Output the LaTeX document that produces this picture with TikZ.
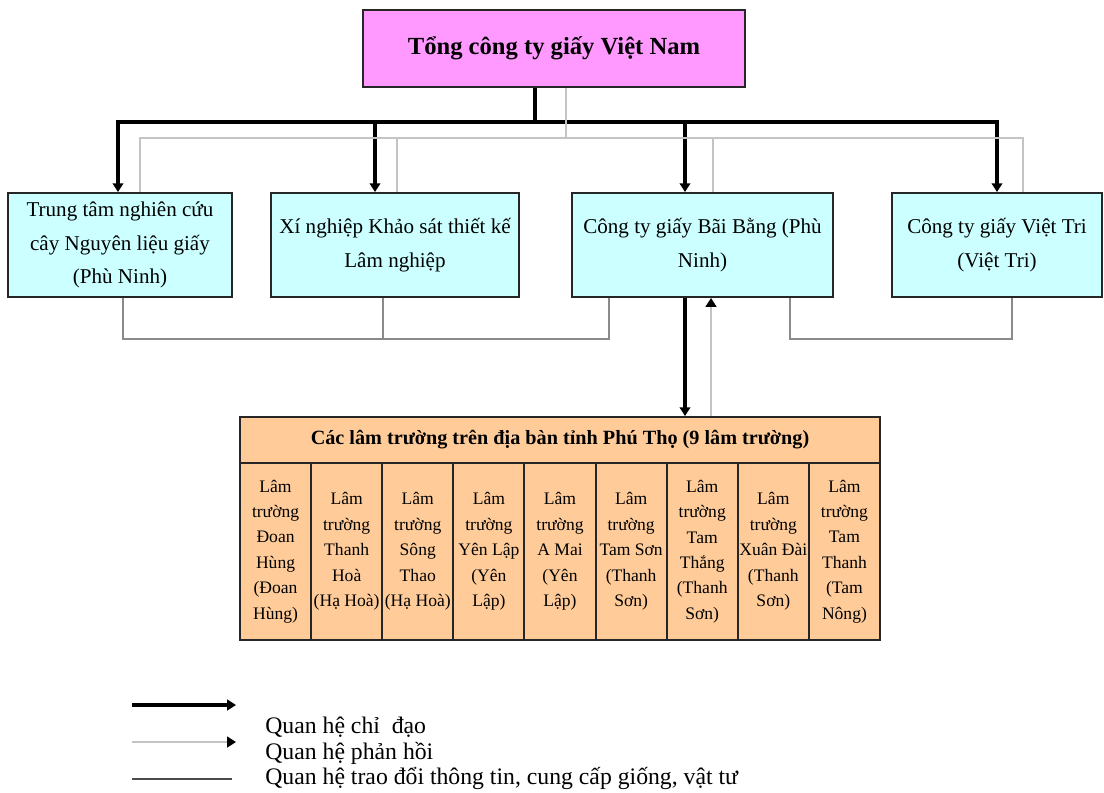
\documentclass[tikz,border=0pt]{standalone}
\usepackage{fontspec}
\setmainfont{Liberation Serif}
\usepackage{tikz}
\usetikzlibrary{arrows.meta}

\definecolor{hong}{HTML}{FF99FF}
\definecolor{xanh}{HTML}{CCFFFF}
\definecolor{cam}{HTML}{FFCC99}
\definecolor{xamnhat}{HTML}{C4C4C4}
\definecolor{xamdam}{HTML}{8A8A8A}

\tikzset{
  hop/.style={draw=black!85, line width=1.1pt, align=center, inner sep=2pt,
    font=\fontsize{12}{19}\selectfont},
  o/.style={draw=black!85, line width=1.1pt, fill=cam, align=center, inner xsep=0pt,
    minimum width=1.4222cm, minimum height=3.54cm, font=\fontsize{10}{14.5}\selectfont},
  chidao/.style={line width=2.2pt, black},
  phanhoi/.style={line width=1.3pt, xamnhat},
  traodoi/.style={line width=1.3pt, xamdam},
  tip/.style={-{Triangle[length=5pt,width=6pt,color=black]}},
  chu/.style={anchor=west, inner sep=0pt, font=\fontsize{13.5}{16}\selectfont}
}

\begin{document}
\begin{tikzpicture}[x=0.02cm, y=-0.02cm]
  \useasboundingbox (0,0) rectangle (1104,792);

  % --- cac don vi ---
  \node[hop, fill=hong, minimum width=7.64cm, minimum height=1.54cm,
        font=\fontsize{14}{17}\selectfont\bfseries] (tong) at (554,48.5) {Tổng công ty giấy Việt Nam};

  \node[hop, fill=xanh, minimum width=4.48cm, minimum height=2.08cm] (b1) at (120,245)
    {Trung tâm nghiên cứu\\cây Nguyên liệu giấy\\(Phù Ninh)};
  \node[hop, fill=xanh, minimum width=4.96cm, minimum height=2.08cm] (b2) at (395,245)
    {Xí nghiệp Khảo sát thiết kế\\Lâm nghiệp};
  \node[hop, fill=xanh, minimum width=5.22cm, minimum height=2.08cm] (b3) at (702.5,245)
    {Công ty giấy Bãi Bằng (Phù\\Ninh)};
  \node[hop, fill=xanh, minimum width=4.2cm, minimum height=2.08cm] (b4) at (997,245)
    {Công ty giấy Việt Tri\\(Việt Tri)};

  % --- bang cac lam truong ---
  \node[o, minimum width=12.8cm, minimum height=0.92cm, font=\fontsize{11.5}{14}\selectfont\bfseries]
    (lt) at (560,440) {Các lâm trường trên địa bàn tỉnh Phú Thọ (9 lâm trường)};
  \foreach \i/\txt in {1/{Lâm\\trường\\Đoan\\Hùng\\(Đoan\\Hùng)},
                       2/{Lâm\\trường\\Thanh\\Hoà\\(Hạ Hoà)},
                       3/{Lâm\\trường\\Sông\\Thao\\(Hạ Hoà)},
                       4/{Lâm\\trường\\Yên Lập\\(Yên\\Lập)},
                       5/{Lâm\\trường\\A Mai\\(Yên\\Lập)},
                       6/{Lâm\\trường\\Tam Sơn\\(Thanh\\Sơn)},
                       7/{Lâm\\trường\\Tam\\Thắng\\(Thanh\\Sơn)},
                       8/{Lâm\\trường\\Xuân Đài\\(Thanh\\Sơn)},
                       9/{Lâm\\trường\\Tam\\Thanh\\(Tam\\Nông)}}
    \node[o] (lt\i) at ({240+71.111*(\i-0.5)},551.5) {\txt};

  % --- quan he chi dao ---
  \coordinate (k0) at (535,122);
  \coordinate (k1) at (118,122);
  \coordinate (k2) at (375,122);
  \coordinate (k3) at (685,122);
  \coordinate (k4) at (997,122);
  \draw[chidao] (tong.south -| k0) -- (k0);
  \draw[chidao, {Triangle[length=5pt,width=6pt]}-{Triangle[length=5pt,width=6pt]}]
    (b1.north -| k1) -- (k1) -- (k4) -- (b4.north -| k4);
  \draw[chidao, tip] (k2) -- (b2.north -| k2);
  \draw[chidao, tip] (k3) -- (b3.north -| k3);

  % --- quan he phan hoi ---
  \coordinate (g0) at (566,138);
  \coordinate (g1) at (140,138);
  \coordinate (g2) at (397,138);
  \coordinate (g3) at (713,138);
  \coordinate (g4) at (1023,138);
  \draw[phanhoi] (tong.south -| g0) -- (g0);
  \draw[phanhoi] (b1.north -| g1) -- (g1) -- (g4) -- (b4.north -| g4);
  \draw[phanhoi] (b2.north -| g2) -- (g2);
  \draw[phanhoi] (b3.north -| g3) -- (g3);

  % --- trao doi thong tin ---
  \coordinate (t1) at (123,339);
  \coordinate (t2) at (383,339);
  \coordinate (t3) at (609,339);
  \coordinate (t4) at (790,339);
  \coordinate (t5) at (1012,339);
  \draw[traodoi] (b1.south -| t1) -- (t1) -- (t3) -- (b3.south -| t3);
  \draw[traodoi] (b2.south -| t2) -- (t2);
  \draw[traodoi] (b3.south -| t4) -- (t4) -- (t5) -- (b4.south -| t5);

  % --- Bai Bang <-> lam truong ---
  \coordinate (d1) at (685,380);
  \coordinate (d2) at (711,380);
  \draw[chidao, tip] (b3.south -| d1) -- (lt.north -| d1);
  \draw[phanhoi, tip] (lt.north -| d2) -- (b3.south -| d2);

  % --- chu giai ---
  \coordinate (c1a) at (132,705); \coordinate (c1b) at (236,705);
  \coordinate (c2a) at (132,742); \coordinate (c2b) at (236,742);
  \coordinate (c3a) at (132,779); \coordinate (c3b) at (232,779);
  \draw[chidao, tip] (c1a) -- (c1b);
  \draw[phanhoi, tip] (c2a) -- (c2b);
  \draw[line width=1.1pt, black!70] (c3a) -- (c3b);
  \node[chu] (ch1) at (265,727) {Quan hệ chỉ~ đạo};
  \node[chu] (ch2) at (265,753) {Quan hệ phản hồi};
  \node[chu] (ch3) at (265,778) {Quan hệ trao đổi thông tin, cung cấp giống, vật tư};
\end{tikzpicture}
\end{document}
